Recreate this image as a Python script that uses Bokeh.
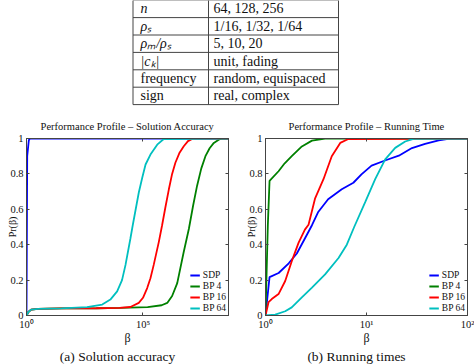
from bokeh.plotting import figure
from bokeh.models import (Range1d, FixedTicker, LinearAxis, LogAxis, Legend, LegendItem,
                          CustomJSTickFormatter)
from bokeh.layouts import column, row
from bokeh.embed import file_html
from bokeh.resources import INLINE
from bokeh.core.properties import value

# ---------------- data ----------------
param_names = ["n", "ρₛ", "ρₘ/ρₛ", "|cₖ|", "frequency", "sign"]
param_italic = [True, True, True, True, False, False]
param_values = ["64, 128, 256", "1/16, 1/32, 1/64", "5, 10, 20",
                "unit, fading", "random, equispaced", "real, complex"]

series_names = ["SDP", "BP 4", "BP 16", "BP 64"]
y_ticks = [0, 0.2, 0.4, 0.6, 0.8, 1]
plot_titles = ["Performance Profile \u2013 Solution Accuracy",
               "Performance Profile \u2013 Running Time"]
captions = ["(a) Solution accuracy", "(b) Running times"]
x_labels = ["β", "β"]
y_label = "Pr(β)"

# (a) Solution accuracy : log10(beta) and P(beta)
acc_x_max_exp = 8.67
acc_x_ticks = [1, 100000]
acc_sdp_exp = [0, 0.03, 0.1, 0.14, 8.67]
acc_sdp_p = [0, 0.9, 0.99, 1.0, 1.0]
acc_bp4_exp = [0, 0.08, 0.2, 0.5, 1.5, 3.0, 4.0, 5.2, 5.8, 6.04, 6.25, 6.47, 6.75, 6.97,
               7.15, 7.32, 7.5, 7.68, 7.86, 8.04, 8.25, 8.4, 8.67]
acc_bp4_p = [0, 0.02, 0.033, 0.037, 0.04, 0.041, 0.043, 0.047, 0.058, 0.071, 0.11, 0.183,
             0.36, 0.49, 0.62, 0.732, 0.83, 0.90, 0.945, 0.975, 0.993, 1.0, 1.0]
acc_bp16_exp = [0, 0.08, 0.2, 0.5, 1.5, 3.0, 4.0, 4.46, 4.82, 5.0, 5.18, 5.32, 5.46, 5.68,
                5.82, 5.96, 6.11, 6.25, 6.39, 6.57, 6.75, 6.93, 7.11, 8.67]
acc_bp16_p = [0, 0.02, 0.033, 0.037, 0.04, 0.041, 0.043, 0.048, 0.071, 0.1, 0.155, 0.21,
              0.286, 0.416, 0.51, 0.61, 0.713, 0.80, 0.863, 0.92, 0.956, 0.985, 0.998, 1.0]
acc_bp64_exp = [0, 0.08, 0.2, 0.5, 1.5, 2.6, 3.25, 3.6, 3.89, 4.1, 4.25, 4.46, 4.56, 4.82,
                4.97, 5.11, 5.32, 5.61, 5.89, 8.67]
acc_bp64_p = [0, 0.02, 0.033, 0.037, 0.04, 0.047, 0.062, 0.09, 0.136, 0.2, 0.286, 0.435,
              0.51, 0.695, 0.78, 0.853, 0.909, 0.965, 0.997, 1.0]

# (b) Running times : log10(beta) and P(beta)
time_x_max_exp = 2.0
time_x_ticks = [1, 10, 100]
time_sdp_exp = [0, 0.04, 0.13, 0.23, 0.31, 0.39, 0.46, 0.52, 0.62, 0.755, 0.87, 0.95, 1.05,
                1.19, 1.32, 1.45, 1.58, 1.715, 1.81, 2.0]
time_sdp_p = [0, 0.217, 0.24, 0.295, 0.35, 0.435, 0.51, 0.583, 0.657, 0.713, 0.75, 0.797,
              0.847, 0.877, 0.903, 0.946, 0.97, 0.989, 0.998, 1.0]
time_bp4_exp = [0, 0.023, 0.04, 0.129, 0.19, 0.26, 0.36, 0.46, 0.59, 2.0]
time_bp4_p = [0, 0.51, 0.76, 0.815, 0.86, 0.90, 0.955, 0.988, 1.0, 1.0]
time_bp16_exp = [0, 0.03, 0.062, 0.129, 0.195, 0.26, 0.327, 0.39, 0.426, 0.49, 0.574, 0.656,
                 0.74, 0.82, 2.0]
time_bp16_p = [0, 0.075, 0.093, 0.121, 0.195, 0.307, 0.41, 0.485, 0.513, 0.66, 0.77, 0.90,
               0.975, 0.997, 1.0]
time_bp64_exp = [0, 0.096, 0.195, 0.26, 0.36, 0.46, 0.59, 0.723, 0.805, 0.878, 0.987, 1.086,
                 1.185, 1.284, 1.383, 1.465, 2.0]
time_bp64_p = [0, 0.005, 0.024, 0.046, 0.102, 0.158, 0.232, 0.325, 0.40, 0.50, 0.64, 0.77,
               0.882, 0.947, 0.983, 0.998, 1.0]

# ---------------- styles / layout ----------------
SERIF = "Liberation Serif"
COLORS = ["#0000ff", "#008000", "#ff0000", "#00bfbf"]
LINE_C = "#444444"
TEXT_C = "#111111"
PAGE_W = 474
TABLE_H = 110
PLOT_H = 222
CAP_H = 364 - TABLE_H - PLOT_H
FRAME_W = 202
LEFT_FIG_W, LEFT_BORDER_L = 237, 26
RIGHT_FIG_W, RIGHT_BORDER_L = 237, 28

# ---------------- table ----------------
tab = figure(width=PAGE_W, height=TABLE_H, x_range=Range1d(0, PAGE_W),
             y_range=Range1d(TABLE_H, 0), output_backend="svg", toolbar_location=None,
             min_border=0, x_axis_location=None, y_axis_location=None)
tab.grid.visible = False
tab.outline_line_color = None

t_left, t_split, t_right = 132.5, 208, 338
t_top, row_h = -0.3, 17.4
n_rows = len(param_names)
h_y = [t_top + i * row_h for i in range(n_rows + 1)]
t_bottom = h_y[-1]
tab.segment(x0=[t_left] * len(h_y), x1=[t_right] * len(h_y), y0=h_y, y1=h_y,
            line_color=LINE_C, line_width=1)
v_x = [t_left, t_split, t_right]
tab.segment(x0=v_x, x1=v_x, y0=[t_top] * 3, y1=[t_bottom] * 3,
            line_color=LINE_C, line_width=1)
row_c = [t_top + (i + 0.5) * row_h for i in range(n_rows)]
styles = ["italic" if it else "normal" for it in param_italic]
tab.text(x=[t_left + 7.5] * n_rows, y=row_c, text=param_names,
         text_font=value(SERIF), text_font_size="14px", text_font_style=styles,
         text_baseline="middle", text_color=TEXT_C)
tab.text(x=[t_split + 5] * n_rows, y=row_c, text=param_values,
         text_font=value(SERIF), text_font_size="14px",
         text_baseline="middle", text_color=TEXT_C)

# ---------------- plots ----------------
pow_fmt = CustomJSTickFormatter(code="""
const sup = {"0":"\u2070","1":"\u00b9","2":"\u00b2","3":"\u00b3","4":"\u2074",
             "5":"\u2075","6":"\u2076","7":"\u2077","8":"\u2078","9":"\u2079","-":"\u207b"};
const e = Math.round(Math.log10(tick));
return "10" + String(e).split("").map(c => sup[c]).join("");
""")
dec_fmt = CustomJSTickFormatter(code="return String(Math.round(tick*10)/10);")
blank_fmt = CustomJSTickFormatter(code="return '';")


def style_axis(ax):
    ax.major_tick_in = 3
    ax.major_tick_out = 0
    ax.minor_tick_in = 0
    ax.minor_tick_out = 0
    ax.axis_line_color = LINE_C
    ax.major_tick_line_color = LINE_C


def make_plot(title, x_max_exp, x_ticks, curves, width, left):
    p = figure(width=width, height=PLOT_H, x_axis_type="log",
               x_range=Range1d(1, 10 ** x_max_exp), y_range=Range1d(0, 1),
               output_backend="svg", toolbar_location=None,
               min_border_left=left, min_border_right=width - left - FRAME_W,
               min_border_top=28, min_border_bottom=PLOT_H - 28 - 178, title=title)
    p.title.align = "center"
    p.title.text_font = SERIF
    p.title.text_font_size = "10.5px"
    p.title.text_font_style = "normal"
    p.title.text_color = TEXT_C
    p.title.standoff = 13
    p.grid.visible = False
    p.outline_line_color = LINE_C

    xa = p.xaxis[0]
    xa.ticker = FixedTicker(ticks=x_ticks)
    xa.formatter = pow_fmt
    ya = p.yaxis[0]
    ya.ticker = FixedTicker(ticks=y_ticks)
    ya.formatter = dec_fmt
    ya.axis_label = y_label
    for ax in (xa, ya):
        style_axis(ax)
        ax.major_label_text_font = SERIF
        ax.major_label_text_font_size = "10.5px"
        ax.major_label_text_color = TEXT_C
    xa.major_label_standoff = 3
    ya.major_label_standoff = 3
    ya.axis_label_standoff = -11
    ya.axis_label_text_font = SERIF
    ya.axis_label_text_font_style = "normal"
    ya.axis_label_text_color = TEXT_C
    ya.axis_label_text_font_size = "10px"

    top = LogAxis(ticker=FixedTicker(ticks=x_ticks), formatter=blank_fmt,
                  major_label_standoff=0, major_label_text_font_size="1px")
    rgt = LinearAxis(ticker=FixedTicker(ticks=y_ticks), formatter=blank_fmt,
                     major_label_standoff=0, major_label_text_font_size="1px")
    for ax in (top, rgt):
        style_axis(ax)
    p.add_layout(top, "above")
    p.add_layout(rgt, "right")

    items = []
    for name, (exps, probs), color in zip(series_names, curves, COLORS):
        r = p.line(x=[10 ** e for e in exps], y=probs, line_color=color, line_width=1.8)
        items.append(LegendItem(label=name, renderers=[r]))
    leg = Legend(items=items, location="bottom_right", border_line_alpha=0,
                 background_fill_alpha=0, label_text_font=SERIF,
                 label_text_font_size="9.5px", label_text_color=TEXT_C,
                 glyph_width=10, glyph_height=10, label_height=10, spacing=1,
                 padding=0, margin=2, label_standoff=3)
    p.add_layout(leg)
    return p


p_acc = make_plot(plot_titles[0], acc_x_max_exp, acc_x_ticks,
                  [(acc_sdp_exp, acc_sdp_p), (acc_bp4_exp, acc_bp4_p),
                   (acc_bp16_exp, acc_bp16_p), (acc_bp64_exp, acc_bp64_p)],
                  LEFT_FIG_W, LEFT_BORDER_L)
p_time = make_plot(plot_titles[1], time_x_max_exp, time_x_ticks,
                   [(time_sdp_exp, time_sdp_p), (time_bp4_exp, time_bp4_p),
                    (time_bp16_exp, time_bp16_p), (time_bp64_exp, time_bp64_p)],
                   RIGHT_FIG_W, RIGHT_BORDER_L)

# ---------------- x-axis labels and sub-captions ----------------
cap_top = TABLE_H + PLOT_H
cap = figure(width=PAGE_W, height=CAP_H, x_range=Range1d(0, PAGE_W),
             y_range=Range1d(364, cap_top), output_backend="svg", toolbar_location=None,
             min_border=0, x_axis_location=None, y_axis_location=None)
cap.grid.visible = False
cap.outline_line_color = None
frame_centers = [LEFT_BORDER_L + FRAME_W / 2,
                 LEFT_FIG_W + RIGHT_BORDER_L + FRAME_W / 2]
cap.text(x=frame_centers, y=[337.5, 337.5], text=x_labels, text_font=value(SERIF),
         text_font_size="12px", text_align="center", text_baseline="middle",
         text_color=TEXT_C)
cap.text(x=[c - 10 for c in frame_centers], y=[356, 356], text=captions,
         text_font=value(SERIF), text_font_size="13.5px", text_align="center",
         text_baseline="middle", text_color=TEXT_C)

layout = column(tab, row(p_acc, p_time), cap)
open("out.html", "w").write(file_html(layout, INLINE))
